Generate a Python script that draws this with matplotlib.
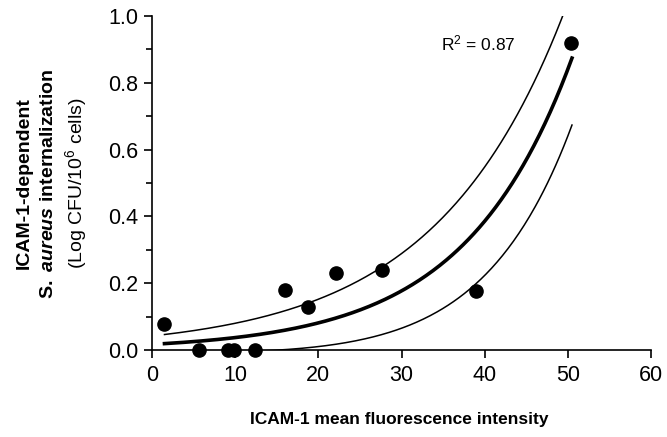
import numpy as np
import matplotlib.pyplot as plt
from matplotlib.ticker import MultipleLocator

plt.rcParams['font.family'] = ['Liberation Sans', 'DejaVu Sans']
plt.rcParams['mathtext.fontset'] = 'custom'
plt.rcParams['mathtext.rm'] = 'Liberation Sans'
plt.rcParams['mathtext.bf'] = 'Liberation Sans:bold'
plt.rcParams['mathtext.it'] = 'Liberation Sans:italic:bold'

# ========== Data ==========
mfi = [1.4, 5.6, 9.1, 9.8, 12.4, 16.0, 18.7, 22.1, 27.7, 39.0, 50.4]
internalization = [0.078, 0.0, 0.0, 0.0, 0.0, 0.18, 0.13, 0.23, 0.24, 0.177, 0.92]

# exponential fit y = a*exp(b*x) and upper 95% band
fit_a, fit_b = 0.0171, 0.0779
upper_a, upper_b = 0.0422, 0.0641
fit_range = (1.5, 50.5)
r_squared = 0.87

xx = np.linspace(fit_range[0], fit_range[1], 300)
fit = fit_a * np.exp(fit_b * xx)
upper = upper_a * np.exp(upper_b * xx)
lower = fit - (upper - fit)

# ========== Plot ==========
fig = plt.figure(figsize=(6.67, 4.37), dpi=100)
ax = fig.add_axes([0.2279, 0.199, 0.7481, 0.7644])

ax.plot(xx, upper, color="black", lw=1.1)
ax.plot(xx, lower, color="black", lw=1.1)
ax.plot(xx, fit, color="black", lw=2.6)
ax.plot(mfi, internalization, "o", color="black", ms=9.5, clip_on=False, zorder=5)

ax.set_xlim(0, 60)
ax.set_ylim(0, 1.0)
ax.xaxis.set_major_locator(MultipleLocator(10))
ax.yaxis.set_major_locator(MultipleLocator(0.2))
ax.yaxis.set_minor_locator(MultipleLocator(0.1))
ax.yaxis.set_major_formatter(plt.FormatStrFormatter("%.1f"))

for s in ["top", "right"]:
    ax.spines[s].set_visible(False)
for s in ["left", "bottom"]:
    ax.spines[s].set_linewidth(1.2)

ax.tick_params(axis="both", which="major", length=6, width=1.2, labelsize=15.5)
ax.tick_params(axis="y", which="major", pad=4)
ax.tick_params(axis="x", which="major", pad=5)
ax.tick_params(axis="y", which="minor", length=4, width=1.2)

ax.text(34.8, 0.919, r"R$^2$ = 0.87", fontsize=12.5, ha="left", va="center")

fig.text(0.599, 0.039, "ICAM-1 mean fluorescence intensity", fontsize=12.5,
         fontweight="bold", ha="center", va="center")

fig.text(0.037, 0.58, "ICAM-1-dependent", fontsize=14, fontweight="bold",
         rotation=90, ha="center", va="center")
fig.text(0.073, 0.58, r"$\mathbf{S.\ }\mathit{aureus}\mathbf{\ internalization}$",
         fontsize=14, rotation=90, ha="center", va="center")
fig.text(0.114, 0.58, r"(Log CFU/10$^6$ cells)", fontsize=14,
         rotation=90, ha="center", va="center")

plt.savefig("out.png", dpi=100)
plt.close()
